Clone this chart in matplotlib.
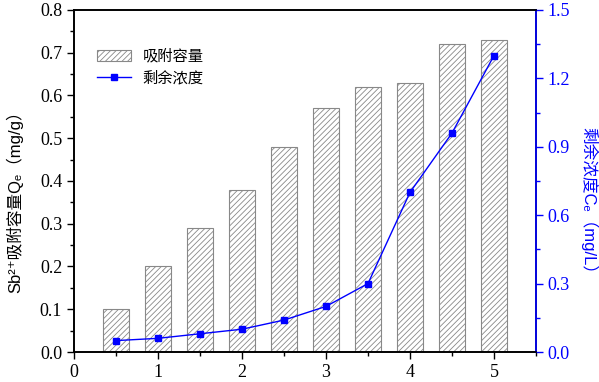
import numpy as np
import matplotlib
matplotlib.use('Agg')
import matplotlib.pyplot as plt
from matplotlib.ticker import MultipleLocator, FormatStrFormatter

plt.rcParams['font.family'] = ['Liberation Serif', 'Noto Sans CJK SC']
plt.rcParams['hatch.color'] = '#333333'
plt.rcParams['hatch.linewidth'] = 0.6

# data
dose = [0.5, 1.0, 1.5, 2.0, 2.5, 3.0, 3.5, 4.0, 4.5, 5.0]
qe = [0.10, 0.20, 0.29, 0.38, 0.48, 0.57, 0.62, 0.63, 0.72, 0.73]
ce = [0.05, 0.06, 0.08, 0.10, 0.14, 0.20, 0.30, 0.70, 0.96, 1.30]

label_fonts = ['Liberation Sans', 'DejaVu Sans', 'Noto Sans CJK SC']

fig = plt.figure(figsize=(5.99, 3.82), dpi=100)
ax = fig.add_axes([0.1235, 0.0785, 0.7713, 0.8955])
ax2 = ax.twinx()

bars = ax.bar(dose, qe, width=0.3, facecolor='white', edgecolor='#888888',
              linewidth=0.8, hatch='//////', label='吸附容量')
line, = ax2.plot(dose, ce, color='blue', marker='s', markersize=5,
                 linewidth=1.0, label='剩余浓度')

ax.set_xlim(0, 5.5)
ax.set_ylim(0, 0.8)
ax2.set_ylim(0, 1.5)

ax.xaxis.set_major_locator(MultipleLocator(1))
ax.xaxis.set_minor_locator(MultipleLocator(0.5))
ax.yaxis.set_major_locator(MultipleLocator(0.1))
ax.yaxis.set_minor_locator(MultipleLocator(0.05))
ax2.yaxis.set_major_locator(MultipleLocator(0.3))
ax2.yaxis.set_minor_locator(MultipleLocator(0.15))

ax.tick_params(axis='both', which='major', direction='out', length=5, width=1, labelsize=13)
ax.tick_params(axis='both', which='minor', direction='out', length=3, width=1)
ax.tick_params(axis='x', top=False, which='both')
ax.yaxis.set_major_formatter(FormatStrFormatter('%.1f'))
ax2.yaxis.set_major_formatter(FormatStrFormatter('%.1f'))
ax2.tick_params(axis='y', which='major', direction='out', length=5, width=1,
                labelsize=13, colors='blue')
ax2.tick_params(axis='y', which='minor', direction='out', length=3, width=1, colors='blue')

for s in ax.spines.values():
    s.set_linewidth(1.2)
for s in ax2.spines.values():
    s.set_linewidth(1.2)
ax2.spines['right'].set_color('blue')

ax.set_ylabel('Sb²⁺吸附容量Qₑ（mg/g）', fontsize=12, family=label_fonts, va='center')
ax.yaxis.set_label_coords(-0.128, 0.45)
ax2.set_ylabel('剩余浓度Cₑ（mg/L）', fontsize=12, color='blue',
               rotation=270, family=label_fonts, va='center')
ax2.yaxis.set_label_coords(1.115, 0.43)

leg = ax.legend([bars, line], ['吸附容量', '剩余浓度'], loc='upper left',
                bbox_to_anchor=(0.02, 0.93), frameon=False,
                handlelength=2.2, handletextpad=0.8, labelspacing=0.3,
                prop={'family': ['Noto Sans CJK SC'], 'size': 11})

fig.savefig('out.png', dpi=100)
